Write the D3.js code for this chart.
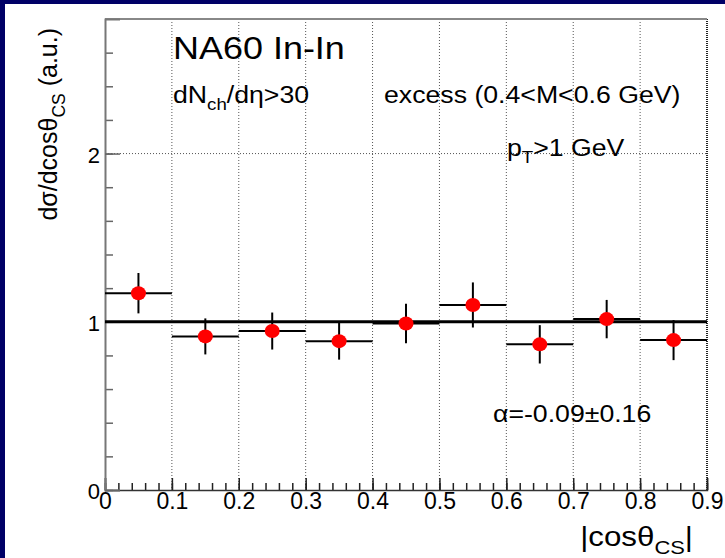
<!DOCTYPE html>
<html><head><meta charset="utf-8">
<script src="https://cdn.jsdelivr.net/npm/d3@7/dist/d3.min.js"></script>
<style>
body{margin:0;background:#fff}
text{font-family:"Liberation Sans",Arial,Helvetica,sans-serif;fill:#000}
</style>
</head><body>
<svg id="chart" width="725" height="558"></svg>
<script>
// ---- data ----
const binLow   = [0.0, 0.1, 0.2, 0.3, 0.4, 0.5, 0.6, 0.7, 0.8];
const binHigh  = [0.1, 0.2, 0.3, 0.4, 0.5, 0.6, 0.7, 0.8, 0.9];
const values   = [1.17, 0.913, 0.945, 0.885, 0.99, 1.10, 0.866, 1.016, 0.891];
const errors   = [0.12, 0.107, 0.11, 0.11, 0.117, 0.134, 0.114, 0.114, 0.119];
const xTickLabels = ["0","0.1","0.2","0.3","0.4","0.5","0.6","0.7","0.8","0.9"];
const xTickValues = [0,0.1,0.2,0.3,0.4,0.5,0.6,0.7,0.8,0.9];
const yTickValues = [0,1,2];
const refLine = [1.0];

const svg = d3.select("#chart");
const W = 725, H = 558;
const m = {left:105, right:707, top:19, bottom:490};
const SX = 1.16; // horizontal glyph stretch seen in the reference

svg.append("rect").attr("width",W).attr("height",H).attr("fill","#fff");
svg.append("rect").attr("x",0).attr("y",0).attr("width",W).attr("height",4).attr("fill","#000066");
svg.append("rect").attr("x",0).attr("y",0).attr("width",5).attr("height",H).attr("fill","#000066");

const x = d3.scaleLinear().domain([0,0.9]).range([m.left,m.right]);
const y = d3.scaleLinear().domain([0,2.8]).range([m.bottom,m.top]);

// grid
const grid = svg.append("g");
grid.selectAll("line.vg").data(xTickValues.slice(1,9)).join("line")
  .attr("x1",d=>x(d)).attr("x2",d=>x(d)).attr("y1",m.top).attr("y2",m.bottom)
  .attr("stroke","#555").attr("stroke-width",1).attr("stroke-dasharray","1,2");
grid.selectAll("line.hg").data(yTickValues.slice(1)).join("line")
  .attr("x1",m.left).attr("x2",m.right).attr("y1",d=>y(d)).attr("y2",d=>y(d))
  .attr("stroke","#555").attr("stroke-width",1).attr("stroke-dasharray","1,2");
svg.append("line").attr("x1",x(0.9)).attr("x2",x(0.9)).attr("y1",m.top).attr("y2",m.bottom)
  .attr("stroke","#222").attr("stroke-width",2).attr("stroke-dasharray","1,1");
svg.append("line").attr("x1",m.left).attr("x2",m.right).attr("y1",m.top).attr("y2",m.top)
  .attr("stroke","#888").attr("stroke-width",2);

// x axis
const xMinor = d3.axisBottom(x).tickValues(x.ticks(45)).tickSize(-7).tickFormat("");
svg.append("g").attr("transform",`translate(0,${m.bottom})`).call(xMinor)
  .call(g=>{g.select(".domain").remove(); g.selectAll("line").attr("stroke","#222").attr("stroke-width",1.5);});
const xMajor = d3.axisBottom(x).tickValues(xTickValues).tickSize(-12).tickPadding(3)
  .tickFormat((d,i)=>xTickLabels[i]);
const xg = svg.append("g").attr("transform",`translate(0,${m.bottom})`).call(xMajor);
xg.select(".domain").attr("stroke","#333").attr("stroke-width",1.5);
xg.selectAll("line").attr("stroke","#222").attr("stroke-width",1.5);
xg.selectAll("text").attr("font-size",23).attr("font-family","Liberation Sans, Arial, sans-serif").attr("fill","#000");

// y axis
const yMinor = d3.axisLeft(y).tickValues(d3.range(0,28,2).map(v=>v/10)).tickSize(-8).tickFormat("");
svg.append("g").attr("transform",`translate(${m.left},0)`).call(yMinor)
  .call(g=>{g.select(".domain").remove(); g.selectAll("line").attr("stroke","#666").attr("stroke-width",1.5);});
const yMajor = d3.axisLeft(y).tickValues(yTickValues).tickSize(-15).tickPadding(5).tickFormat(d3.format("d"));
const yg = svg.append("g").attr("transform",`translate(${m.left},0)`).call(yMajor);
yg.select(".domain").attr("stroke","#777").attr("stroke-width",2);
yg.selectAll("line").attr("stroke","#666").attr("stroke-width",1.5);
yg.selectAll("text").attr("font-size",22).attr("font-family","Liberation Sans, Arial, sans-serif").attr("fill","#000").attr("dy","0.4em");

// reference line at 1
svg.selectAll("line.ref").data(refLine).join("line")
  .attr("x1",m.left).attr("x2",m.right).attr("y1",d=>y(d)).attr("y2",d=>y(d))
  .attr("stroke","#000").attr("stroke-width",3);

// data
const pts = binLow.map((lo,i)=>({lo, hi:binHigh[i], v:values[i], e:errors[i]}));
const dg = svg.append("g");
dg.selectAll("line.hb").data(pts).join("line")
  .attr("x1",d=>x(d.lo)).attr("x2",d=>x(d.hi)).attr("y1",d=>y(d.v)).attr("y2",d=>y(d.v))
  .attr("stroke","#000").attr("stroke-width",2);
dg.selectAll("line.vb").data(pts).join("line")
  .attr("x1",d=>x((d.lo+d.hi)/2)).attr("x2",d=>x((d.lo+d.hi)/2))
  .attr("y1",d=>y(d.v-d.e)).attr("y2",d=>y(d.v+d.e))
  .attr("stroke","#000").attr("stroke-width",2);
dg.selectAll("ellipse").data(pts).join("ellipse")
  .attr("cx",d=>x((d.lo+d.hi)/2)).attr("cy",d=>y(d.v)).attr("rx",7.5).attr("ry",7)
  .attr("fill","#ff0000");

// texts
function addText(px, py, size, parts, anchor, rot, sx){
  const t = svg.append("text").attr("font-size",size).attr("x",0).attr("y",0)
    .attr("text-anchor",anchor||"start");
  if(rot){ t.attr("transform",`translate(${px},${py}) rotate(${rot})`); }
  else { t.attr("transform",`translate(${px},${py}) scale(${sx||1},1)`); }
  parts.forEach(p=>{
    const ts = t.append("tspan").text(p.t);
    if(p.sub){ ts.attr("font-size",size*0.7).attr("dy",size*0.3); }
    if(p.after){ ts.attr("dy",-size*0.3); }
  });
  return t;
}
addText(173, 59, 31, [{t:"NA60 In-In"}], "start", 0, SX);
addText(173, 103, 23, [{t:"dN"},{t:"ch",sub:true},{t:"/dη>30",after:true}], "start", 0, SX);
addText(384, 103, 23, [{t:"excess (0.4<M<0.6 GeV)"}], "start", 0, SX);
addText(507, 156, 23, [{t:"p"},{t:"T",sub:true},{t:">1 GeV",after:true}], "start", 0, SX);
addText(493, 422, 23, [{t:"α=-0.09±0.16"}], "start", 0, SX);
addText(693, 546, 27, [{t:"|cosθ"},{t:"CS",sub:true},{t:"|",after:true}], "end", 0, SX);
addText(57, 28, 25, [{t:"dσ/dcosθ"},{t:"CS",sub:true},{t:" (a.u.)",after:true}], "end", -90);
</script>
</body></html>
